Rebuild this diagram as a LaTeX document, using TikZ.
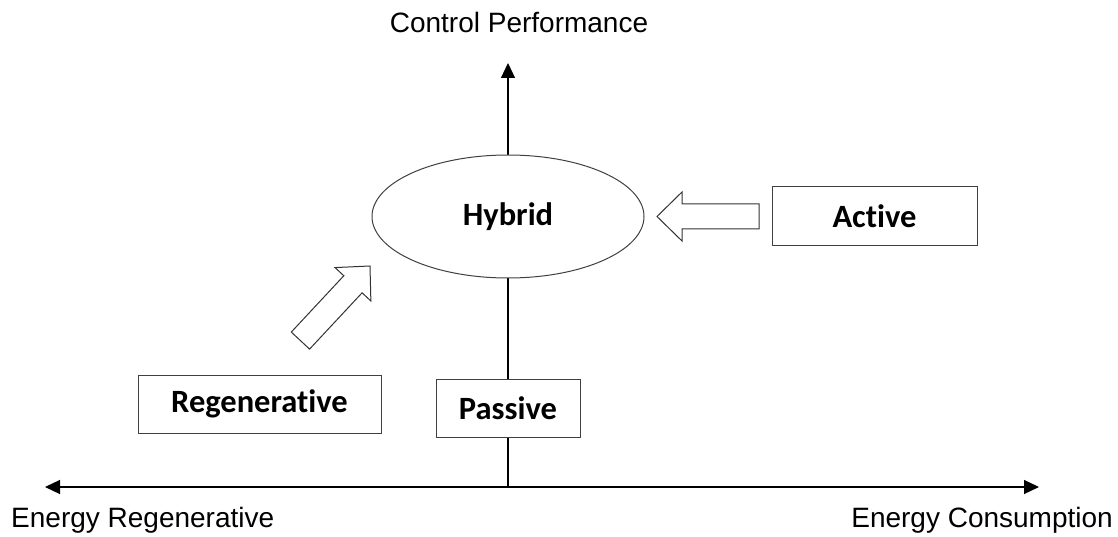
\documentclass[tikz,border=0pt]{standalone}
\usepackage{fontspec}
\setmainfont{Liberation Sans}
\newfontfamily\boxfont[RawFeature=-liga]{Carlito}
\usetikzlibrary{arrows.meta,shapes.geometric}
\tikzset{
	axis/.style={line width=1.2pt, color=black, >={Triangle[length=15pt,width=14pt]}},
	box/.style={draw=black!75, line width=1pt, fill=white, inner sep=0pt, font=\boxfont\bfseries\fontsize{32.5}{38}\selectfont},
	lbl/.style={inner sep=0pt, font=\fontsize{28}{33}\selectfont},
	hollow/.style={draw=black!80, line width=1pt, fill=white, line join=miter}
}
% hollow block arrow, tip at #1, turned by #2
\def\blockarrow(#1)(#2){\draw[hollow, shift={(#1)}, rotate=#2] (0,0) -- (-25,24.5) -- (-25,12.5) -- (-102,12.5) -- (-102,-12.5) -- (-25,-12.5) -- (-25,-24.5) -- cycle;}

\begin{document}
\begin{tikzpicture}[x=1pt, y=1pt]
	\useasboundingbox (0,0) rectangle (1118,536);
	
	%%%%% axes %%%%%
	\coordinate (origin) at (508,49);
	\coordinate (west) at (45,49);
	\coordinate (east) at (1039,49);
	\coordinate (north) at (508,473);
	
	\draw[axis, <->] (west) -- (east);
	\draw[axis, ->] (origin) -- (north);
	
	\node[lbl, anchor=base] (perf) at (519,503) {Control Performance};
	\node[lbl, anchor=base west] (regenlbl) at (11,9) {Energy Regenerative};
	\node[lbl, anchor=base east] (consumlbl) at (1113,9) {Energy Consumption};
	
	%%%%% boxes %%%%%
	\node[box, ellipse, minimum width=272pt, minimum height=123pt] (hybrid) at (508,319.5) {Hybrid};
	\node[box, rectangle, minimum width=205pt, minimum height=59pt] (active) at (874.5,319.5) {Active};
	\node[box, rectangle, minimum width=243pt, minimum height=58pt] (regen) at (259.5,132) {Regenerative};
	\node[box, rectangle, minimum width=144pt, minimum height=58pt] (passive) at (508,128) {Passive};
	
	%%%%% block arrows %%%%%
	\blockarrow(657,319.5)(180)
	\blockarrow(370,270)(47)
	
\end{tikzpicture}
\end{document}
